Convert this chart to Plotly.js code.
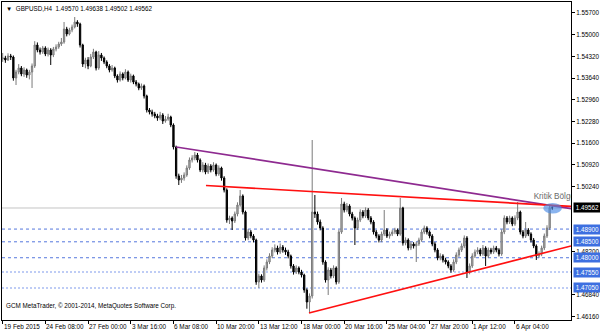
<!DOCTYPE html>
<html><head><meta charset="utf-8">
<script src="https://cdn.plot.ly/plotly-3.0.1.min.js"></script>
<style>html,body{margin:0;padding:0;background:#fff;}#chart{width:600px;height:333px;}</style>
</head><body><div id="chart"></div>
<script>
const symbol = 'GBPUSD,H4';
const copyright = 'GCM MetaTrader, \u00a9 2001-2014, MetaQuotes Software Corp.';
const zoneLabel = 'Kritik B\u00f6lge';

const open = [1.54240,1.54272,1.54209,1.54335,1.54303,1.53644,1.53832,1.53958,1.53769,1.53895,
1.53738,1.53832,1.54021,1.54680,1.54523,1.54460,1.54586,1.54397,1.54523,1.54366,
1.54554,1.54617,1.54711,1.54774,1.55182,1.55025,1.55151,1.55245,1.55402,1.55339,
1.54680,1.54083,1.54209,1.54021,1.54303,1.54460,1.53958,1.54366,1.54272,1.54146,
1.54021,1.53895,1.53958,1.53707,1.53581,1.53769,1.53644,1.53832,1.53581,1.53707,
1.53518,1.53455,1.53330,1.53393,1.53079,1.52639,1.52576,1.52513,1.52451,1.52388,
1.52482,1.52294,1.52356,1.52419,1.52168,1.51477,1.50567,1.50441,1.50504,1.50598,
1.50818,1.51069,1.51132,1.51226,1.51069,1.50755,1.50912,1.50692,1.50881,1.50755,
1.50912,1.50629,1.50818,1.50504,1.50127,1.49185,1.49248,1.49154,1.49373,1.49656,
1.49939,1.49436,1.48620,1.48808,1.48683,1.48557,1.47238,1.47427,1.47301,1.47678,
1.47866,1.48055,1.48243,1.48306,1.48180,1.48337,1.48243,1.48180,1.48055,1.47741,
1.47552,1.47678,1.47552,1.47458,1.46987,1.46610,1.46799,1.49436,1.49373,1.49122,
1.48934,1.47866,1.47301,1.47615,1.47427,1.47678,1.47238,1.48808,1.49687,1.49499,
1.49625,1.49373,1.49248,1.48934,1.49185,1.49436,1.49311,1.49499,1.49248,1.49122,
1.48808,1.48683,1.48557,1.48745,1.48871,1.48683,1.48745,1.48808,1.48871,1.48745,
1.49562,1.48463,1.48557,1.48306,1.48431,1.48369,1.48431,1.48557,1.48808,1.48934,
1.48808,1.48683,1.48431,1.48243,1.47992,1.48055,1.47929,1.47866,1.47741,1.47615,
1.47866,1.48086,1.48243,1.48369,1.48620,1.47552,1.47741,1.48055,1.48180,1.48243,
1.48117,1.48306,1.48055,1.48243,1.48180,1.48306,1.48243,1.48117,1.48808,1.49248,
1.49122,1.49248,1.49059,1.49248,1.49436,1.48808,1.48683,1.48871,1.48745,1.48557,
1.48369,1.48055,1.48117,1.48306,1.48683,1.48934,1.49570];

const high = [1.54430,1.54340,1.54420,1.54400,1.54350,1.53900,1.54080,1.54020,1.53980,1.53940,
1.53900,1.54100,1.54800,1.54760,1.54600,1.54650,1.54640,1.54600,1.54580,1.54620,
1.54700,1.54780,1.54900,1.55402,1.55250,1.55220,1.55320,1.55559,1.55460,1.55380,
1.54720,1.54280,1.54300,1.54400,1.54560,1.54500,1.54490,1.54430,1.54320,1.54200,
1.54080,1.54050,1.54000,1.53760,1.53850,1.53820,1.53920,1.53880,1.53780,1.53750,
1.53580,1.53500,1.53470,1.53440,1.53120,1.52700,1.52650,1.52580,1.52520,1.52580,
1.52540,1.52450,1.52520,1.52460,1.52220,1.51520,1.50640,1.50600,1.50680,1.50900,
1.51150,1.51220,1.51320,1.51290,1.51120,1.51000,1.50980,1.50960,1.50940,1.51000,
1.50960,1.50900,1.50860,1.50560,1.50180,1.49320,1.49300,1.49450,1.49740,1.50127,
1.49990,1.49480,1.48900,1.48870,1.48740,1.48600,1.47500,1.47480,1.47760,1.47950,
1.48140,1.48330,1.48420,1.48380,1.48450,1.48400,1.48320,1.48250,1.48100,1.47800,
1.47760,1.47730,1.47620,1.47500,1.47040,1.46880,1.51697,1.49970,1.49450,1.49200,
1.48990,1.47920,1.47700,1.47680,1.47760,1.47730,1.48880,1.49876,1.49760,1.49720,
1.49680,1.49440,1.49300,1.49260,1.49520,1.49500,1.49580,1.49560,1.49310,1.49180,
1.48870,1.48740,1.48820,1.49499,1.48930,1.48820,1.48880,1.48940,1.48920,1.49876,
1.49600,1.48640,1.48610,1.48510,1.48490,1.48500,1.48630,1.48890,1.49010,1.48990,
1.48860,1.48740,1.48490,1.48300,1.48140,1.48110,1.48000,1.47920,1.47800,1.47950,
1.48170,1.48320,1.48450,1.48700,1.48680,1.47820,1.48140,1.48260,1.48330,1.48300,
1.48400,1.48360,1.48320,1.48310,1.48380,1.48370,1.48300,1.48890,1.49330,1.49310,
1.49320,1.49300,1.49330,1.49750,1.49480,1.48870,1.49122,1.48930,1.48800,1.48620,
1.48420,1.48200,1.48380,1.48760,1.49020,1.49650,1.49638];

const low = [1.54150,1.54120,1.54180,1.54210,1.53560,1.53424,1.53760,1.53700,1.53680,1.53650,
1.53600,1.53330,1.53960,1.54450,1.54380,1.54400,1.54330,1.54320,1.54052,1.54300,
1.54480,1.54560,1.54650,1.54720,1.54950,1.54980,1.55080,1.55200,1.55250,1.54600,
1.53990,1.53950,1.53920,1.53980,1.54240,1.53880,1.53900,1.54180,1.54080,1.53950,
1.53820,1.53840,1.53640,1.53500,1.53530,1.53570,1.53600,1.53520,1.53500,1.53450,
1.53380,1.53260,1.53270,1.53000,1.52560,1.52500,1.52430,1.52380,1.52300,1.52320,
1.52200,1.52240,1.52300,1.52100,1.51400,1.50480,1.50284,1.50350,1.50420,1.50540,
1.50760,1.50990,1.51060,1.50990,1.50690,1.50680,1.50620,1.50630,1.50680,1.50700,
1.50560,1.50570,1.50420,1.50050,1.49100,1.49060,1.48871,1.49090,1.49300,1.49600,
1.49360,1.48540,1.48550,1.48610,1.48480,1.47150,1.47050,1.47220,1.47240,1.47600,
1.47800,1.47990,1.48170,1.48100,1.48120,1.48160,1.48090,1.47980,1.47660,1.47470,
1.47490,1.47480,1.47380,1.46900,1.46400,1.46265,1.46720,1.49250,1.49040,1.48860,
1.47780,1.47220,1.46830,1.47350,1.47360,1.47160,1.47180,1.48750,1.49420,1.49430,
1.49300,1.49170,1.48400,1.48870,1.49120,1.49240,1.49250,1.49180,1.49050,1.48730,
1.48610,1.48480,1.48490,1.48680,1.48620,1.48600,1.48680,1.48740,1.48680,1.48690,
1.48380,1.48390,1.48230,1.48240,1.48290,1.47866,1.48370,1.48500,1.48740,1.48730,
1.48610,1.48360,1.48170,1.47920,1.47920,1.47850,1.47790,1.47670,1.47530,1.47560,
1.47800,1.48020,1.48180,1.48300,1.47364,1.47480,1.47680,1.47990,1.48110,1.48050,
1.48060,1.47741,1.47990,1.48110,1.48120,1.48170,1.48040,1.48060,1.48740,1.49050,
1.49060,1.48990,1.49000,1.49180,1.48730,1.48610,1.48620,1.48680,1.48480,1.48300,
1.47929,1.47990,1.48050,1.48240,1.48620,1.48870,1.49502];

const close = [1.54272,1.54209,1.54335,1.54303,1.53644,1.53832,1.53958,1.53769,1.53895,1.53738,
1.53832,1.54021,1.54680,1.54523,1.54460,1.54586,1.54397,1.54523,1.54366,1.54554,
1.54617,1.54711,1.54774,1.55182,1.55025,1.55151,1.55245,1.55402,1.55339,1.54680,
1.54083,1.54209,1.54021,1.54303,1.54460,1.53958,1.54366,1.54272,1.54146,1.54021,
1.53895,1.53958,1.53707,1.53581,1.53769,1.53644,1.53832,1.53581,1.53707,1.53518,
1.53455,1.53330,1.53393,1.53079,1.52639,1.52576,1.52513,1.52451,1.52388,1.52482,
1.52294,1.52356,1.52419,1.52168,1.51477,1.50567,1.50441,1.50504,1.50598,1.50818,
1.51069,1.51132,1.51226,1.51069,1.50755,1.50912,1.50692,1.50881,1.50755,1.50912,
1.50629,1.50818,1.50504,1.50127,1.49185,1.49248,1.49154,1.49373,1.49656,1.49939,
1.49436,1.48620,1.48808,1.48683,1.48557,1.47238,1.47427,1.47301,1.47678,1.47866,
1.48055,1.48243,1.48306,1.48180,1.48337,1.48243,1.48180,1.48055,1.47741,1.47552,
1.47678,1.47552,1.47458,1.46987,1.46610,1.46799,1.49436,1.49373,1.49122,1.48934,
1.47866,1.47301,1.47615,1.47427,1.47678,1.47238,1.48808,1.49687,1.49499,1.49625,
1.49373,1.49248,1.48934,1.49185,1.49436,1.49311,1.49499,1.49248,1.49122,1.48808,
1.48683,1.48557,1.48745,1.48871,1.48683,1.48745,1.48808,1.48871,1.48745,1.49562,
1.48463,1.48557,1.48306,1.48431,1.48369,1.48431,1.48557,1.48808,1.48934,1.48808,
1.48683,1.48431,1.48243,1.47992,1.48055,1.47929,1.47866,1.47741,1.47615,1.47866,
1.48086,1.48243,1.48369,1.48620,1.47552,1.47741,1.48055,1.48180,1.48243,1.48117,
1.48306,1.48055,1.48243,1.48180,1.48306,1.48243,1.48117,1.48808,1.49248,1.49122,
1.49248,1.49059,1.49248,1.49436,1.48808,1.48683,1.48871,1.48745,1.48557,1.48369,
1.48055,1.48117,1.48306,1.48683,1.48934,1.49570,1.49562];

// time axis: bar numbers of the labelled bars and their labels
const tickBars = [0,16,32,48,64,80,96,112,128,144,160,176,192];
const tickLabels = ['19 Feb 2015','24 Feb 08:00','27 Feb 00:00','3 Mar 16:00','6 Mar 08:00','10 Mar 20:00',
  '13 Mar 12:00','18 Mar 00:00','20 Mar 16:00','25 Mar 04:00','27 Mar 20:00','1 Apr 12:00','6 Apr 04:00'];

// price scale labels
const priceTicks = [1.55700,1.55000,1.54320,1.53640,1.52960,1.52280,1.51600,1.50920,1.50240,1.48200,1.46840,1.46160];

// horizontal support levels
const levels = [1.48900,1.48500,1.48000,1.47550,1.47050];

// trend lines (bar number, price anchors)
const purpleBars = [65, 213];
const purplePrices = [1.51477, 1.49540];
const redTopBars = [76.2, 213];
const redTopPrices = [1.50268, 1.49610];
const redLowBars = [114.8, 213];
const redLowPrices = [1.46265, 1.48369];

// critical zone highlight
const zoneBars = [202.6, 209.6];
const zonePrices = [1.49390, 1.49720];
const zoneLabelBar = [199];
const zoneLabelPrice = [1.49907];

const bars = close.map((_, i) => i);
const n = close.length - 1;
const fmt = v => v.toFixed(5);
const FONT = 'Liberation Sans, Arial, sans-serif';

const traces = [
  {
    type: 'candlestick', x: bars, open: open, high: high, low: low, close: close,
    increasing: {line: {color: '#7a7a7a', width: 1}, fillcolor: '#b8b8b8'},
    decreasing: {line: {color: '#000000', width: 1}, fillcolor: '#000000'},
    whiskerwidth: 0, hoverinfo: 'skip', showlegend: false
  },
  {type: 'scatter', mode: 'lines', x: purpleBars, y: purplePrices, line: {color: '#8e2a90', width: 1.7}, hoverinfo: 'skip'},
  {type: 'scatter', mode: 'lines', x: redTopBars, y: redTopPrices, line: {color: '#ff1010', width: 1.7}, hoverinfo: 'skip'},
  {type: 'scatter', mode: 'lines', x: redLowBars, y: redLowPrices, line: {color: '#ff1010', width: 1.7}, hoverinfo: 'skip'},
  {type: 'scatter', mode: 'text', x: zoneLabelBar, y: zoneLabelPrice, text: [zoneLabel], textposition: 'middle right',
   textfont: {family: FONT, size: 8.2, color: '#6a6a6a'}, cliponaxis: true, hoverinfo: 'skip'}
];

const shapes = [];
levels.forEach((lv, i) => {
  const strong = i < 3;
  shapes.push({type: 'line', xref: 'paper', x0: 0, x1: 1, yref: 'y', y0: lv, y1: lv, layer: 'below',
    line: {color: strong ? '#5577dd' : '#a9bcf2', width: strong ? 1 : 1.5, dash: strong ? '3px,3px' : '2px,2px'}});
});
shapes.push({type: 'line', xref: 'paper', x0: 0, x1: 1, yref: 'y', y0: close[n], y1: close[n], layer: 'below',
  line: {color: '#c4c4c4', width: 1}});
shapes.push({type: 'circle', xref: 'x', yref: 'y', x0: zoneBars[0], x1: zoneBars[1], y0: zonePrices[0], y1: zonePrices[1],
  fillcolor: 'rgba(75,140,230,0.65)', line: {width: 0}, layer: 'above'});

const annotations = [];
levels.forEach(lv => {
  annotations.push({xref: 'paper', x: 1, xanchor: 'left', xshift: 2, yref: 'y', y: lv, yanchor: 'middle',
    text: fmt(lv), showarrow: false, bgcolor: '#3d6fe0', borderpad: 1, width: 25,
    font: {family: FONT, size: 6.3, color: '#ffffff'}});
});
annotations.push({xref: 'paper', x: 1, xanchor: 'left', xshift: 2, yref: 'y', y: close[n], yanchor: 'middle',
  text: fmt(close[n]), showarrow: false, bgcolor: '#000000', borderpad: 1, width: 25,
  font: {family: FONT, size: 6.3, color: '#ffffff'}});
tickBars.forEach((b, i) => {
  annotations.push({xref: 'x', x: b, xanchor: 'left', xshift: -1, yref: 'paper', y: 0, yanchor: 'top', yshift: -1,
    text: tickLabels[i], showarrow: false, font: {family: FONT, size: 6.4, color: '#000000'}});
});
annotations.push({xref: 'paper', x: 0, xanchor: 'left', xshift: 2, yref: 'paper', y: 1, yanchor: 'top', yshift: -1,
  text: '\u25bc  ' + symbol + '  ' + fmt(open[n]) + ' ' + fmt(high[n]) + ' ' + fmt(low[n]) + ' ' + fmt(close[n]),
  showarrow: false, font: {family: FONT, size: 6.3, color: '#000000'}});
annotations.push({xref: 'paper', x: 0, xanchor: 'left', xshift: 2, yref: 'paper', y: 0, yanchor: 'bottom', yshift: 8,
  text: copyright, showarrow: false, font: {family: FONT, size: 6.3, color: '#000000'}});

const layout = {
  width: 600, height: 333,
  margin: {l: 2, r: 29, t: 2, b: 13, pad: 0},
  paper_bgcolor: '#ffffff', plot_bgcolor: '#ffffff',
  showlegend: false, hovermode: false,
  xaxis: {
    range: [-0.26, 213], tickmode: 'array', tickvals: tickBars, showticklabels: false,
    ticks: 'outside', ticklen: 3, tickcolor: '#000', tickwidth: 1,
    showgrid: false, zeroline: false, showline: true, mirror: true, linecolor: '#000', linewidth: 1,
    rangeslider: {visible: false}, fixedrange: true
  },
  yaxis: {
    range: [1.46045, 1.56030], side: 'right', tickmode: 'array', tickvals: priceTicks, ticktext: priceTicks.map(fmt),
    ticks: 'outside', ticklen: 3, tickcolor: '#000', tickwidth: 1,
    showgrid: false, zeroline: false, showline: true, mirror: true, linecolor: '#000', linewidth: 1,
    tickfont: {family: FONT, size: 6.3, color: '#000'}, fixedrange: true
  },
  shapes: shapes,
  annotations: annotations
};

Plotly.newPlot('chart', traces, layout, {staticPlot: true, displayModeBar: false});
</script>
</body></html>
